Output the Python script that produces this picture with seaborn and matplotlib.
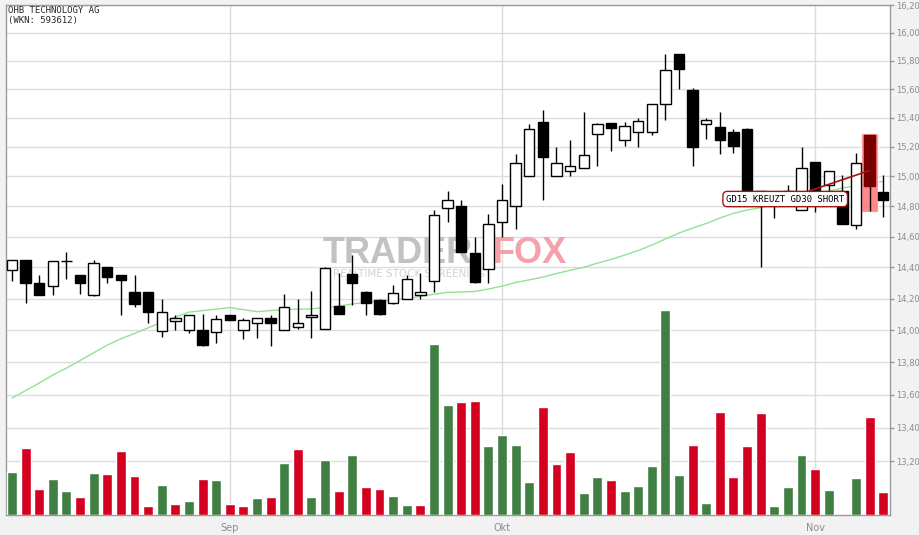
import numpy as np
import pandas as pd
import matplotlib
matplotlib.use("Agg")
import matplotlib.pyplot as plt
import seaborn as sns
from matplotlib.ticker import FixedLocator, FixedFormatter, NullLocator

# --- data ---
title = "OHB TECHNOLOGY AG"
subtitle = "(WKN: 593612)"

opens = [14.385, 14.45, 14.30, 14.28, 14.443, 14.353, 14.22, 14.40, 14.353, 14.243,
         14.243, 13.996, 14.06, 14.0, 14.0, 13.986, 14.098, 14.004, 14.048, 14.08,
         14.002, 14.023, 14.086, 14.01, 14.154, 14.359, 14.24, 14.192, 14.173, 14.20,
         14.223, 14.314, 14.792, 14.80, 14.495, 14.392, 14.695, 14.80, 15.0, 15.369,
         15.0, 15.04, 15.054, 15.29, 15.362, 15.248, 15.305, 15.305, 15.494, 15.847,
         15.596, 15.355, 15.334, 15.305, 15.326, 14.90, 14.82, 14.84, 14.779, 15.097,
         14.944, 14.90, 14.68, 15.284, 14.895]
highs = [14.45, 14.45, 14.353, 14.443, 14.503, 14.353, 14.45, 14.40, 14.353, 14.353,
         14.243, 14.20, 14.098, 14.098, 14.10, 14.098, 14.098, 14.08, 14.08, 14.098,
         14.23, 14.20, 14.25, 14.40, 14.366, 14.482, 14.25, 14.198, 14.29, 14.353,
         14.366, 14.779, 14.90, 14.845, 14.598, 14.748, 14.952, 15.15, 15.355, 15.453,
         15.20, 15.25, 15.44, 15.362, 15.362, 15.37, 15.398, 15.495, 15.847, 15.85,
         15.61, 15.398, 15.44, 15.326, 15.33, 14.90, 14.88, 14.94, 15.20, 15.097,
         15.04, 15.01, 15.16, 15.284, 15.01]
lows = [14.31, 14.17, 14.22, 14.22, 14.325, 14.229, 14.215, 14.30, 14.096, 14.145,
        14.046, 13.96, 14.0, 13.984, 13.90, 13.92, 14.064, 13.947, 13.953, 13.90,
        14.0, 14.008, 13.953, 14.01, 14.10, 14.158, 14.098, 14.096, 14.167, 14.20,
        14.20, 14.243, 14.70, 14.499, 14.30, 14.30, 14.60, 14.65, 15.0, 14.843,
        15.0, 15.0, 15.054, 15.074, 15.17, 15.21, 15.20, 15.284, 15.386, 15.60,
        15.07, 15.256, 15.15, 15.156, 14.86, 14.40, 14.72, 14.80, 14.775, 14.765,
        14.88, 14.682, 14.65, 14.77, 14.73]
closes = [14.45, 14.30, 14.226, 14.443, 14.445, 14.30, 14.43, 14.337, 14.32, 14.164,
          14.114, 14.117, 14.08, 14.098, 13.91, 14.073, 14.064, 14.062, 14.08, 14.046,
          14.148, 14.048, 14.096, 14.398, 14.10, 14.30, 14.173, 14.102, 14.237, 14.327,
          14.243, 14.746, 14.845, 14.499, 14.305, 14.682, 14.845, 15.088, 15.326, 15.133,
          15.094, 15.074, 15.143, 15.355, 15.333, 15.341, 15.376, 15.495, 15.736, 15.74,
          15.20, 15.384, 15.248, 15.21, 14.88, 14.82, 14.86, 14.90, 15.06, 14.86,
          15.04, 14.682, 15.09, 14.934, 14.843]
volume = [43, 67, 26, 36, 24, 18, 42, 41, 64, 39,
          9, 30, 11, 14, 36, 35, 11, 9, 17, 18,
          52, 66, 18, 55, 24, 60, 28, 26, 19, 10,
          10, 171, 110, 113, 114, 69, 80, 70, 33, 108,
          51, 63, 22, 38, 35, 24, 29, 49, 205, 40,
          70, 12, 103, 38, 69, 102, 9, 28, 60, 46,
          25, 0, 37, 98, 23]
gd30 = [13.58, 13.626, 13.672, 13.721, 13.764, 13.811, 13.859, 13.907, 13.946, 13.98,
        14.015, 14.051, 14.083, 14.114, 14.124, 14.133, 14.143, 14.13, 14.117, 14.124,
        14.131, 14.133, 14.135, 14.143, 14.152, 14.166, 14.176, 14.185, 14.193, 14.201,
        14.214, 14.228, 14.24, 14.242, 14.246, 14.261, 14.28, 14.303, 14.32, 14.338,
        14.361, 14.382, 14.401, 14.428, 14.452, 14.48, 14.51, 14.545, 14.585, 14.624,
        14.657, 14.687, 14.723, 14.754, 14.776, 14.792, 14.815, 14.842, 14.866, 14.885,
        14.902, 14.923, 14.936, 14.956, 14.967]

month_pos = [16, 36, 59]
month_labels = ["Sep", "Okt", "Nov"]
price_ticks = [13.2, 13.4, 13.6, 13.8, 14.0, 14.2, 14.4, 14.6, 14.8, 15.0,
               15.2, 15.4, 15.6, 15.8, 16.0, 16.2]
signal_text = "GD15 KREUZT GD30 SHORT"
signal_idx = 63

df = pd.DataFrame({"open": opens, "high": highs, "low": lows,
                   "close": closes, "volume": volume, "gd30": gd30})
df["idx"] = np.arange(len(df))
df["up"] = df["close"] >= df["open"]
df["vol_up"] = df["close"].diff().fillna(1) >= 0

sns.set_style("white")
plt.rcParams["font.family"] = ["DejaVu Sans"]

W, H = 920, 535
fig = plt.figure(figsize=(W / 100, H / 100), dpi=100, facecolor="#f2f2f2")
ax = fig.add_axes([6 / W, 20 / H, 884 / W, 510 / H])
ax.set_facecolor("white")

# volume on a twin axis (drawn over the grid)
axv = ax.twinx()
vol_colors = ["#3f7f41" if u else "#d3001f" for u in df["vol_up"]]
axv.bar(df["idx"], df["volume"], width=0.73, color=vol_colors, zorder=2)
axv.set_ylim(0, df["volume"].max() * 510 / 205)
axv.set_yticks([])
for s in axv.spines.values():
    s.set_visible(False)

# price axis
ax.set_yscale("log")
ax.set_ylim(12.886, 16.2)
ax.set_xlim(-0.44, 64.5)
ax.yaxis.set_major_locator(FixedLocator(price_ticks))
ax.yaxis.set_minor_locator(NullLocator())
ax.yaxis.set_major_formatter(FixedFormatter([f"{t:.2f}".replace(".", ",") for t in price_ticks]))
ax.yaxis.tick_right()
ax.set_xticks(month_pos)
ax.set_xticklabels(month_labels)
ax.tick_params(axis="x", colors="#999999", labelcolor="#8c8c8c", labelsize=7,
               length=4, width=1, direction="out", pad=2)
ax.tick_params(axis="y", colors="#999999", labelcolor="#8c8c8c", labelsize=6,
               length=3, width=1, direction="out", pad=1.5)
ax.grid(True, color="#dcdcdc", lw=1, zorder=0)
ax.set_axisbelow(True)
for s in ax.spines.values():
    s.set_color("#9a9a9a")
    s.set_linewidth(1)

# watermark
ax.text(0.3586, 0.494, "TRADER", transform=ax.transAxes, fontsize=26, fontweight="bold",
        family="Liberation Sans", color="#c2c2c2", ha="left", va="baseline", zorder=1)
ax.text(0.5509, 0.494, "FOX", transform=ax.transAxes, fontsize=26, fontweight="bold",
        family="Liberation Sans", color="#f3a1aa", ha="left", va="baseline", zorder=1)
ax.text(0.3699, 0.466, "REALTIME STOCK SCREENING", transform=ax.transAxes, fontsize=7.5,
        color="#d2d2d2", ha="left", va="baseline", zorder=1)

# moving average
sns.lineplot(x=df["idx"], y=df["gd30"], ax=ax, color="#93e293", lw=1, zorder=2)

# highlighted signal candle background
sig = df.iloc[signal_idx]
pad = 0.01
ax.bar(signal_idx, sig["high"] - sig["low"] + 2 * pad, bottom=sig["low"] - pad,
       width=1.25, color="#ff6b6b", alpha=0.8, zorder=2.5)

# candles
ax.vlines(df["idx"], df["low"], df["high"], color="black", lw=1, zorder=3)
body_low = np.minimum(df["open"], df["close"])
body_h = np.maximum((df["close"] - df["open"]).abs(), 0.002)
face = ["white" if u else "black" for u in df["up"]]
edge = ["black"] * len(df)
face[signal_idx] = "#7a0000"
edge[signal_idx] = "#7a0000"
ax.bar(df["idx"], body_h, bottom=body_low, width=0.76, color=face,
       edgecolor=edge, linewidth=1, zorder=4)

# signal annotation
ax.annotate(signal_text, xy=(signal_idx, 15.04), xytext=(56.8, 14.849),
            ha="center", va="center", fontsize=6.5, family="DejaVu Sans Mono",
            color="black", zorder=6,
            bbox=dict(boxstyle="round,pad=0.35,rounding_size=0.5", fc="white",
                      ec="#a31515", lw=1),
            arrowprops=dict(arrowstyle="-", color="#a31515", lw=1.2,
                            shrinkA=0, shrinkB=0))

# title
ax.text(0.0025, 0.990, title, transform=ax.transAxes, fontsize=6.5,
        family="DejaVu Sans Mono", ha="left", va="center", zorder=6)
ax.text(0.0025, 0.970, subtitle, transform=ax.transAxes, fontsize=6.5,
        family="DejaVu Sans Mono", ha="left", va="center", zorder=6)

ax.set_xlabel("")
ax.set_ylabel("")
fig.savefig("out.png", dpi=100, facecolor=fig.get_facecolor())
